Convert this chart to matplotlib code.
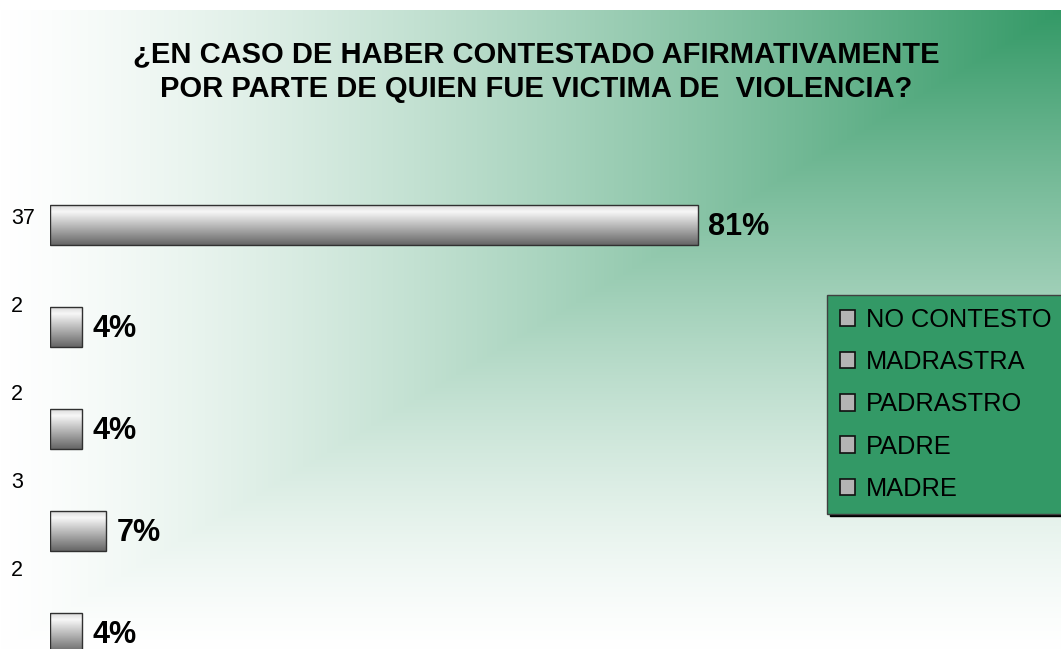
import numpy as np
import matplotlib
matplotlib.use("Agg")
import matplotlib.pyplot as plt
from matplotlib.patches import Patch
from matplotlib.transforms import blended_transform_factory

# ---- data ----
title = "¿EN CASO DE HABER CONTESTADO AFIRMATIVAMENTE\nPOR PARTE DE QUIEN FUE VICTIMA DE  VIOLENCIA?"
legend_labels = ["NO CONTESTO", "MADRASTRA", "PADRASTRO", "PADRE", "MADRE"]
counts = [37, 2, 2, 3, 2]          # top to bottom
percents = [81, 4, 4, 7, 4]        # bar lengths / labels (%)

W, H = 1061, 649
plt.rcParams['font.family'] = ['Liberation Sans', 'DejaVu Sans']
fig = plt.figure(figsize=(W / 100, H / 100), dpi=100)

# ---- background gradient (from top-right corner) ----
green = np.array([51, 153, 102]) / 255.0
yy, xx = np.mgrid[0:H, 0:W].astype(float)
top = 10.0
dx = (W - xx) / W
dy = np.clip((yy - top) / (H - top), 0, 1)
m = np.maximum(dx, dy)
t = np.clip(1 - m, 0, 1) ** 1.3
bg = 1 - t[..., None] * (1 - green)
bg[yy < top] = 1.0
bgax = fig.add_axes([0, 0, 1, 1], zorder=-5)
bgax.imshow(bg, extent=(0, W, H, 0), aspect='auto', interpolation='bilinear')
bgax.set_xlim(0, W)
bgax.set_ylim(H, 0)
bgax.axis('off')

# ---- main bar axes ----
ax_left = 50 / W
ax_w = 800 / W
top_px = 174
ax = fig.add_axes([ax_left, 0, ax_w, (H - top_px) / H])
ax.patch.set_alpha(0)
ypos = np.arange(len(percents))
bar_h = 0.4
bars = ax.barh(ypos, percents, height=bar_h, facecolor='none',
               edgecolor='#303030', linewidth=1.0, zorder=3)

# vertical grey gradient inside each bar
stops_f = np.array([0.0, 0.18, 0.45, 1.0])
stops_c = np.array([0.84, 0.97, 0.78, 0.40])
prof = np.interp(np.linspace(0, 1, 64), stops_f, stops_c)
grad = np.repeat(prof[:, None, None], 3, axis=2)
for b in bars:
    x0, y0 = b.get_x(), b.get_y()
    w, h = b.get_width(), b.get_height()
    im = ax.imshow(grad, extent=(x0, x0 + w, y0 + h, y0), origin='upper',
                   aspect='auto', interpolation='bilinear', zorder=2)
    im.set_clip_path(b)

ax.set_xlim(0, 100)
ax.set_ylim((H - 225) / 102, -0.5)
ax.axis('off')

# percentage labels
for y, p in zip(ypos, percents):
    ax.annotate(f"{p}%", xy=(p, y), xytext=(7.5, -1.5), textcoords='offset points',
                ha='left', va='center', fontsize=22, fontweight='bold',
                color='black', zorder=4)

# count labels (on their own evenly spaced positions)
ax2 = fig.add_axes([ax_left, 0, ax_w, (H - top_px) / H])
ax2.patch.set_alpha(0)
ax2.set_ylim((H - 218) / 88, (top_px - 218) / 88)
ax2.axis('off')
tr = blended_transform_factory(fig.transFigure, ax2.transData)
for i, c in enumerate(counts):
    ax2.text(11 / W, i, str(c), transform=tr, ha='left', va='center',
             fontsize=15.5, color='black')

# title
fig.text(536 / W, 1 - 72 / H, title, ha='center', va='center', fontsize=21,
         fontweight='bold', linespacing=1.3, color='black')

# legend
handles = [Patch(facecolor='#b4b4b4', edgecolor='#101010', linewidth=1.2)
           for _ in legend_labels]
leg = fig.legend(handles, legend_labels, loc='upper left',
                 bbox_to_anchor=(827 / W, 1 - 295 / H), bbox_transform=fig.transFigure,
                 fontsize=18.3, frameon=True, fancybox=False,
                 shadow={'color': 'black', 'alpha': 1.0},
                 handlelength=0.62, handleheight=0.62, handletextpad=0.42,
                 labelspacing=0.72, borderpad=0.5, borderaxespad=0)
frame = leg.get_frame()
frame.set_facecolor('#339966')
frame.set_edgecolor('#404040')
frame.set_linewidth(1.0)
frame.set_alpha(1.0)

fig.savefig('out.png', dpi=100)
